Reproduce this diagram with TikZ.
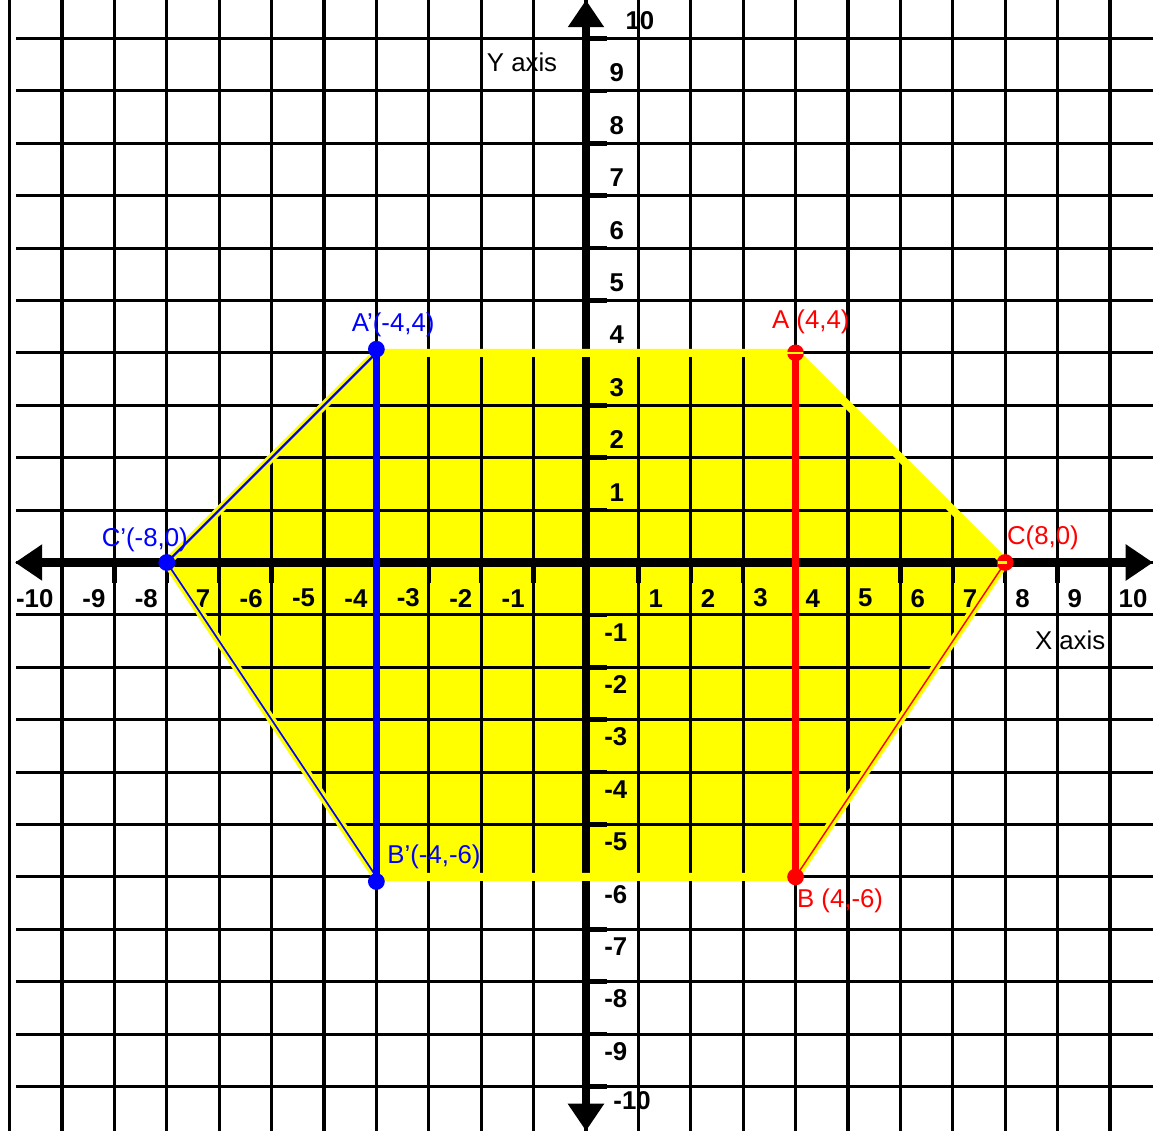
\documentclass[tikz,border=0pt]{standalone}
\usepackage{fontspec}
\setmainfont{Liberation Sans}
\usetikzlibrary{arrows.meta}
\definecolor{pureyellow}{RGB}{255,255,0}
\definecolor{purered}{RGB}{255,0,0}
\definecolor{pureblue}{RGB}{0,0,255}
\begin{document}
\begin{tikzpicture}[x=1cm,y=1cm,
  gridline/.style={line width=1.7pt, black},
  axisline/.style={line width=4.6pt, black},
  tickmark/.style={line width=2.4pt, black},
  headtip/.style={-{Triangle[length=0.52cm,width=0.66cm]}},
  ticklbl/.style={font=\fontsize{14}{14}\selectfont\bfseries, inner sep=0pt},
  ptlbl/.style={font=\fontsize{14}{14}\selectfont, inner sep=0pt},
  shapefill/.style={fill=pureyellow},
  shapeedge/.style={draw=pureyellow, line width=4.4pt, line join=round},
  reddot/.style={fill=purered},
  bluedot/.style={fill=pureblue},
  redseg/.style={draw=purered, line width=3.4pt},
  blueseg/.style={draw=pureblue, line width=3.8pt},
  redthin/.style={draw=purered, line width=0.8pt},
  bluethin/.style={draw=pureblue, line width=0.9pt}]
\useasboundingbox (-11.183,-10.849) rectangle (10.821,10.735);
\clip (-11.183,-10.849) rectangle (10.821,10.735);
\fill[white] (-11.183,-10.849) rectangle (10.821,10.735);

% key points
\coordinate (A) at (4,4);
\coordinate (B) at (4,-6);
\coordinate (C) at (8,0);
\coordinate (Ap) at (-4,4);
\coordinate (Bp) at (-4,-6);
\coordinate (Cp) at (-8,0);

% yellow area
\path[shapefill] (Ap) -- (A) -- (C) -- (B) -- (Bp) -- (Cp) -- cycle;

% grid
\foreach \i in {-11,...,10} \draw[gridline] (\i,-10.849) -- (\i,10.735);
\foreach \j in {-10,...,10} \draw[gridline] (-10.87,\j) -- (10.821,\j);

% axes
\coordinate (ytop) at (0,10.735);
\coordinate (ybot) at (0,-10.849);
\coordinate (xleft) at (-10.897,0);
\coordinate (xright) at (10.821,0);
\coordinate (O) at (0,0);
\draw[axisline,headtip] (O) -- (ytop);
\draw[axisline,headtip] (O) -- (ybot);
\draw[axisline,headtip] (O) -- (xleft);
\draw[axisline,headtip] (O) -- (xright);

% ticks
\foreach \k in {-10,...,-1,1,2,...,10} {
  \draw[tickmark] (0,\k) -- (0.4,\k);
  \draw[tickmark] (\k,0) -- (\k,-0.39);
}

% tick labels
\foreach \k in {1,...,9} {
  \node[ticklbl] (yl\k) at (0.59,\k+0.34) {\k};
  \node[ticklbl] (xl\k) at (\k+0.33,-0.68) {\k};
}
\foreach \k in {-9,...,-1} {
  \node[ticklbl] (yl\k) at (0.57,\k-0.33) {\k};
  \node[ticklbl] (xl\k) at (\k-0.39,-0.68) {\k};
}
\node[ticklbl] (yl10) at (1.03,10.35) {10};
\node[ticklbl] (ylm10) at (0.88,-10.26) {-10};
\node[ticklbl] (xl10) at (10.44,-0.68) {10};
\node[ticklbl] (xlm10) at (-10.52,-0.68) {-10};

% yellow outline
\path[shapeedge] (Ap) -- (A) -- (C) -- (B) -- (Bp) -- (Cp) -- cycle;

% segments
\draw[redseg] (A) -- (B);
\draw[blueseg] (Ap) -- (Bp);
\draw[redthin] (C) -- (B);
\draw[bluethin] (Cp) -- (Bp);
\draw[bluethin, line width=1.3pt] (Ap) -- (Cp);

% dots
\fill[reddot] (A) circle (0.16);
\fill[reddot] (B) circle (0.16);
\fill[reddot] (C) circle (0.16);
\fill[bluedot] ([yshift=2pt]Ap) circle (0.16);
\fill[bluedot] ([yshift=-2.5pt]Bp) circle (0.16);
\fill[bluedot] (Cp) circle (0.16);
\draw[pureyellow, line width=1.5pt] ([xshift=-6pt]A) -- ([xshift=4pt]A);
\draw[pureyellow, line width=1.5pt] ([xshift=-4pt]C) -- ([xshift=1pt]C);

% point labels
\node[ptlbl, text=pureblue] (lAp) at (-3.68,4.53) {A'(-4,4)};
\node[ptlbl, text=purered] (lA) at (4.29,4.59) {A (4,4)};
\node[ptlbl, text=pureblue] (lCp) at (-8.42,0.43) {C'(-8,0)};
\node[ptlbl, text=purered] (lC) at (8.72,0.47) {C(8,0)};
\node[ptlbl, text=pureblue] (lBp) at (-2.90,-5.62) {B'(-4,-6)};
\node[ptlbl, text=purered] (lB) at (4.85,-6.46) {B (4,-6)};
\node[ptlbl] (ylab) at (-1.22,9.55) {Y axis};
\node[ptlbl] (xlab) at (9.24,-1.48) {X axis};
\end{tikzpicture}
\end{document}
